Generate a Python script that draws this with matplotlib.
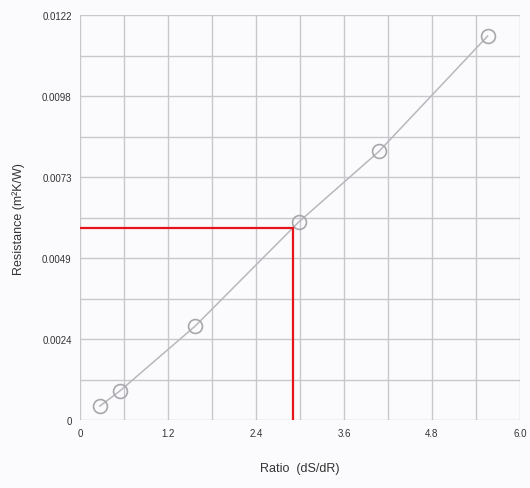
import matplotlib
matplotlib.use("Agg")
from matplotlib import pyplot as plt

plt.rcParams['font.family'] = ['Liberation Sans', 'DejaVu Sans']

# measured points
ratio = [0.27, 0.54, 1.57, 2.98, 4.08, 5.56]
resistance = [0.00042, 0.00087, 0.00283, 0.00596, 0.0081, 0.01157]

# red read-off lines
readRatio = 2.91
readResistance = 0.0058

xTicks = [0, 1.2, 2.4, 3.6, 4.8, 6.0]
xTickLabels = ["0", "1.2", "2.4", "3.6", "4.8", "6.0"]
yTicks = [0, 0.00244, 0.00488, 0.00732, 0.00976, 0.0122]
yTickLabels = ["0", "0.0024", "0.0049", "0.0073", "0.0098", "0.0122"]

fig = plt.figure(figsize=(5.3, 4.89), dpi=100)
fig.patch.set_facecolor("#fbfbfd")
ax = fig.add_axes([0.151, 0.139, 0.83, 0.828])
ax.set_facecolor("#fbfbfd")

ax.plot(ratio, resistance, color="#b8b8bc", lw=1.1, zorder=2)
ax.plot(ratio, resistance, 'o', ms=10, mfc="none", mec="#a8a8ac", mew=1.2, zorder=3)

ax.plot([0, readRatio], [readResistance, readResistance], color="#e8141c", lw=1.6, zorder=4)
ax.plot([readRatio, readRatio], [0, readResistance], color="#e8141c", lw=1.6, zorder=4)

ax.set_xlim(0, 6.0)
ax.set_ylim(0, 0.0122)
ax.set_xticks(xTicks)
ax.set_xticklabels(xTickLabels)
ax.set_yticks(yTicks)
ax.set_yticklabels(yTickLabels)
ax.set_xticks([0.6, 1.8, 3.0, 4.2, 5.4], minor=True)
ax.set_yticks([0.00122, 0.00366, 0.0061, 0.00854, 0.01098], minor=True)
ax.grid(True, which='both', color="#c8c8cc", lw=1.0)
ax.set_axisbelow(True)
ax.tick_params(which='both', length=0, labelsize=7, colors="#333333", pad=6)
for s in ax.spines.values():
    s.set_visible(False)

ax.set_xlabel("Ratio  (dS/dR)", fontsize=9, color="#333333", labelpad=17)
ax.set_ylabel("Resistance (m\u00b2K/W)", fontsize=9, color="#333333", labelpad=12)

fig.savefig("out.png", dpi=100, facecolor=fig.get_facecolor())
